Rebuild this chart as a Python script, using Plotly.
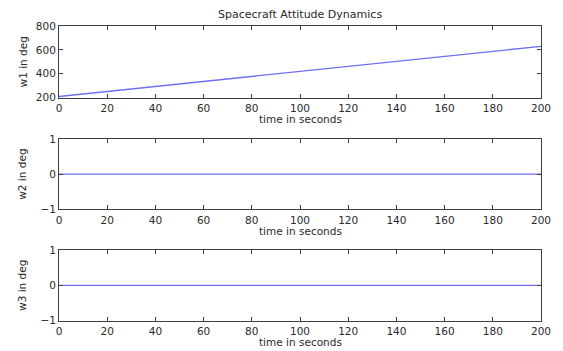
import plotly.graph_objects as go

# Data
time_s = [0, 20, 40, 60, 80, 100, 120, 140, 160, 180, 200]
w1_deg = [210, 252, 294, 336, 378, 420, 462, 504, 546, 588, 630]
w2_deg = [0, 0, 0, 0, 0, 0, 0, 0, 0, 0, 0]
w3_deg = [0, 0, 0, 0, 0, 0, 0, 0, 0, 0, 0]

x_ticks = [0, 20, 40, 60, 80, 100, 120, 140, 160, 180, 200]
y1_ticks = [200, 400, 600, 800]
y23_ticks = [-1, 0, 1]

title_text = "Spacecraft Attitude Dynamics"
x_title = "time in seconds"
y_titles = ["w1 in deg", "w2 in deg", "w3 in deg"]

W, H = 563, 351
ML, MR, MT, MB = 59, 14, 26, 30
PH = H - MT - MB

def py(p):
    # pixel y -> paper coordinate
    return (H - MB - p) / PH

line_color = "#6f6ff2"
axis_color = "#404040"
FAM = "DejaVu Sans, Liberation Sans, Arial, sans-serif"
font = dict(family=FAM, size=10.5, color="#2a2a2a")

fig = go.Figure()
series = [w1_deg, w2_deg, w3_deg]
for i, ys in enumerate(series):
    suffix = "" if i == 0 else str(i + 1)
    fig.add_trace(go.Scatter(x=time_s, y=ys, mode="lines",
                             line=dict(color=line_color, width=1.3),
                             xaxis="x" + suffix, yaxis="y" + suffix,
                             showlegend=False, hoverinfo="skip"))

# plot boxes in pixels (top, bottom)
boxes = [(26, 97.7), (139, 209.3), (250, 320.6)]

layout = dict(width=W, height=H,
              margin=dict(l=ML, r=MR, t=MT, b=MB, pad=0),
              paper_bgcolor="white", plot_bgcolor="white",
              font=font, showlegend=False)

annotations = []
for i, (top, bot) in enumerate(boxes):
    suffix = "" if i == 0 else str(i + 1)
    xa = "xaxis" + suffix
    ya = "yaxis" + suffix
    common = dict(showline=True, linecolor=axis_color, linewidth=1, mirror="ticks",
                  ticks="inside", ticklen=4, tickcolor=axis_color, tickwidth=1,
                  showgrid=False, zeroline=False, tickfont=font)
    layout[xa] = dict(domain=[0, 1], range=[0, 200], tickvals=x_ticks,
                      anchor="y" + suffix, ticklabelstandoff=1, **common)
    if i == 0:
        layout[ya] = dict(domain=[py(bot), py(top)], range=[200, 800],
                          tickvals=y1_ticks, anchor="x" + suffix, **common)
    else:
        layout[ya] = dict(domain=[py(bot), py(top)], range=[-1, 1],
                          tickvals=y23_ticks, anchor="x" + suffix, **common)
    # x-axis title
    annotations.append(dict(text=x_title, xref="paper", yref="paper",
                            x=0.5, y=py(bot + 21.5), xanchor="center", yanchor="middle",
                            showarrow=False, font=font))
    # y-axis title
    annotations.append(dict(text=y_titles[i], xref="paper", yref="paper",
                            x=(22 - ML) / (W - ML - MR), y=py((top + bot) / 2),
                            xanchor="center", yanchor="middle", textangle=-90,
                            showarrow=False, font=font))

annotations.append(dict(text=title_text, xref="paper", yref="paper",
                        x=0.5, y=py(15), xanchor="center", yanchor="middle",
                        showarrow=False, font=dict(family=FAM, size=11, color="#2a2a2a")))
layout["annotations"] = annotations

fig.update_layout(**layout)
fig.write_html("out.html")
